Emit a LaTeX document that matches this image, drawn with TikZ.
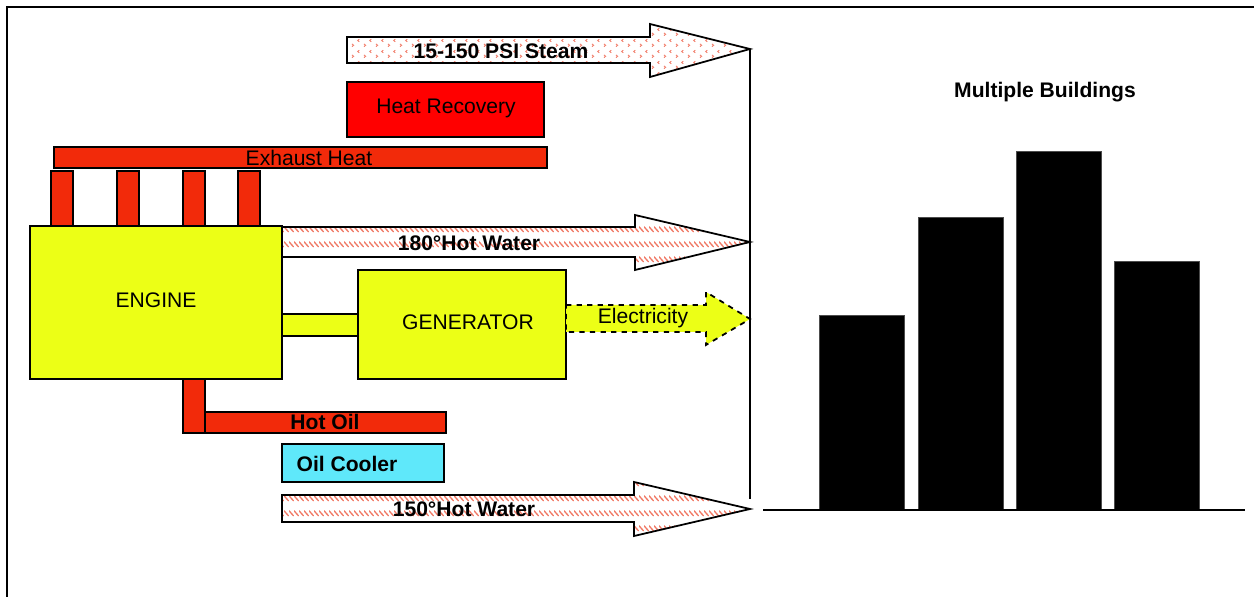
\documentclass[tikz,border=0pt]{standalone}
\usepackage{fontspec}
\setmainfont{Liberation Sans}
\usetikzlibrary{patterns}
\definecolor{engy}{RGB}{236,255,22}
\definecolor{exred}{RGB}{242,42,10}
\definecolor{hrred}{RGB}{255,0,0}
\definecolor{cool}{RGB}{95,232,250}
\definecolor{hw}{RGB}{240,120,100}
\pgfdeclarepatternformonly{hwdash}{\pgfqpoint{0pt}{0pt}}{\pgfqpoint{3pt}{8.5pt}}{\pgfqpoint{3pt}{8.5pt}}{%
  \pgfsetlinewidth{0.8pt}%
  \pgfpathmoveto{\pgfqpoint{0pt}{7pt}}%
  \pgfpathlineto{\pgfqpoint{3pt}{4pt}}%
  \pgfusepath{stroke}}
\pgfdeclarepatternformonly{chev}{\pgfqpoint{0pt}{0pt}}{\pgfqpoint{7pt}{6pt}}{\pgfqpoint{7pt}{6pt}}{%
  \pgfsetlinewidth{0.5pt}%
  \pgfpathmoveto{\pgfqpoint{2pt}{5.2pt}}%
  \pgfpathlineto{\pgfqpoint{1pt}{4.4pt}}%
  \pgfpathlineto{\pgfqpoint{2pt}{3.6pt}}%
  \pgfpathmoveto{\pgfqpoint{4.8pt}{2.4pt}}%
  \pgfpathlineto{\pgfqpoint{5.8pt}{1.6pt}}%
  \pgfpathlineto{\pgfqpoint{4.8pt}{0.8pt}}%
  \pgfusepath{stroke}}
\begin{document}
\begin{tikzpicture}[x=0.02cm,y=-0.02cm,
  box/.style={draw=black, line width=0.9pt},
  lbl/.style={font=\fontsize{12}{14}\selectfont, inner sep=0pt},
  blbl/.style={font=\fontsize{12}{14}\selectfont\bfseries, inner sep=0pt},
  hwarrow/.style={draw=black, line width=1pt, pattern=hwdash, pattern color=hw, line join=miter},
  starrow/.style={draw=black, line width=1pt, pattern=chev, pattern color=hw, line join=miter},
  elarrow/.style={draw=black, line width=1pt, dashed, fill=engy, line join=miter},
  bldg/.style={fill=black, draw=black!70, line width=0.4pt},
  frameline/.style={draw=black, line width=1.3pt}]
\useasboundingbox (0,0) rectangle (1254,597);
% frame
\draw[frameline] (7,597) -- (7,7) -- (1254,7);

% steam arrow
\draw[starrow] (347,37) -- (650,37) -- (650,24) -- (750,49) -- (650,77) -- (650,63) -- (347,63) -- cycle;
\coordinate (steamtip) at (750,49);
\node[blbl] (steam) at (501,51) {15-150 PSI Steam};

% heat recovery
\draw[box, fill=hrred] (347,82) rectangle (544,137);
\node[lbl] (hr) at (446,108) {Heat Recovery};

% exhaust heat
\draw[box, fill=exred] (54,147) rectangle (547,168);
\node[lbl] (exh) at (309,158) {Exhaust Heat};
\foreach \xa/\xb in {51/73,117/139,183/205,238/260}
  \draw[box, line width=0.8pt, fill=exred] (\xa,171) rectangle (\xb,226);

% engine
\draw[box, fill=engy] (30,226) rectangle (282,379);
\node[lbl] (engine) at (156,300) {ENGINE};

% 180 hot water
\draw[hwarrow] (282,227) -- (635,227) -- (635,215) -- (750,242) -- (635,270) -- (635,257) -- (282,257) -- cycle;
\coordinate (hwtip) at (750,242);
\node[blbl] (hw180) at (469,243) {180°Hot Water};

% shaft and generator
\draw[box, fill=engy] (282,314) rectangle (358,336);
\draw[box, fill=engy] (358,270) rectangle (566,379);
\node[lbl] (gen) at (468,322) {GENERATOR};

% electricity
\draw[elarrow] (566,305) -- (706,305) -- (706,292) -- (750,319) -- (706,345) -- (706,332) -- (566,332) -- cycle;
\node[lbl] (elec) at (643,318) {Electricity};

% hot oil
\draw[box, fill=exred] (183,379) rectangle (205,433);
\draw[box, fill=exred] (205,412) rectangle (446,433);
\node[blbl] (hotoil) at (325,422) {Hot Oil};

% oil cooler
\draw[box, fill=cool] (282,444) rectangle (444,482);
\node[blbl] (cooler) at (347,464) {Oil Cooler};

% 150 hot water
\draw[hwarrow] (282,495) -- (634,495) -- (634,482) -- (750,509) -- (634,536) -- (634,522) -- (282,522) -- cycle;
\node[blbl] (hw150) at (464,509) {150°Hot Water};

% collector line
\coordinate (collbot) at (750,499);
\draw[line width=1pt] (steamtip) -- (collbot);

% buildings
\node[blbl] (mb) at (1045,92) {Multiple Buildings};
\draw[bldg] (819,315) rectangle (904,510);
\draw[bldg] (918,217) rectangle (1003,510);
\draw[bldg] (1016,151) rectangle (1101,510);
\draw[bldg] (1114,261) rectangle (1199,510);
\coordinate (gl) at (763,510);
\coordinate (gr) at (1245,510);
\draw[line width=1pt] (gl) -- (gr);
\end{tikzpicture}
\end{document}
